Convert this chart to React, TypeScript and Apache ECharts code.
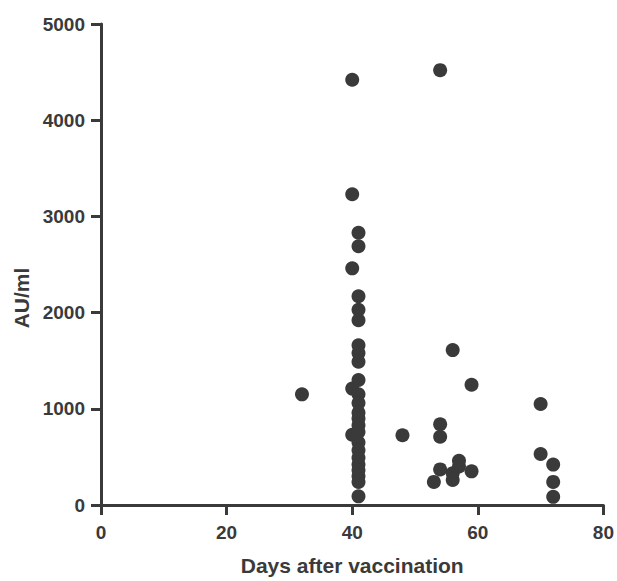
import React, { useEffect, useRef } from "react";
import * as echarts from "echarts";

const xTicks = [0, 20, 40, 60, 80];
const yTicks = [0, 1000, 2000, 3000, 4000, 5000];

const days40 = [4420, 3230, 2460, 1210, 730];
const days41 = [2830, 2690, 2170, 2030, 1920, 1660, 1580, 1490, 1300, 1150, 1060, 960, 900, 830, 760, 650, 570, 490, 420, 360, 300, 240, 90];
const otherDays = [32, 48, 53, 54, 54, 54, 54, 56, 56, 56, 57, 57, 59, 59, 70, 70, 72, 72, 72];
const otherValues = [1150, 725, 240, 4520, 840, 710, 370, 1610, 330, 260, 460, 400, 1250, 350, 1050, 530, 420, 240, 85];

const axisColor = "#3a3a3a";
const font = "Liberation Sans, Arial, sans-serif";

export default function App() {
  const ref = useRef<HTMLDivElement>(null);
  useEffect(() => {
    document.body.style.margin = "0";
    if (!ref.current) return;
    const chart = echarts.init(ref.current, null, { renderer: "svg" });
    const points: [number, number][] = [
      ...days40.map((v) => [40, v] as [number, number]),
      ...days41.map((v) => [41, v] as [number, number]),
      ...otherDays.map((d, i) => [d, otherValues[i]] as [number, number]),
    ];
    chart.setOption({
      animation: false,
      backgroundColor: "#ffffff",
      grid: { left: 101, right: 13, top: 24, bottom: 68, containLabel: false },
      xAxis: {
        type: "value",
        min: xTicks[0],
        max: xTicks[xTicks.length - 1],
        interval: 20,
        name: "Days after vaccination",
        nameLocation: "middle",
        nameGap: 50,
        nameTextStyle: { fontFamily: font, fontWeight: "bold", fontSize: 21, color: axisColor },
        axisLine: { show: true, onZero: false, lineStyle: { color: axisColor, width: 3 } },
        axisTick: { show: true, length: 10, lineStyle: { color: axisColor, width: 3 } },
        axisLabel: { margin: 18, fontFamily: font, fontWeight: "bold", fontSize: 19, color: axisColor, formatter: (v: number) => String(v) },
        splitLine: { show: false },
      },
      yAxis: {
        type: "value",
        min: yTicks[0],
        max: yTicks[yTicks.length - 1],
        interval: 1000,
        axisLine: { show: true, onZero: false, lineStyle: { color: axisColor, width: 3 } },
        axisTick: { show: true, length: 10, lineStyle: { color: axisColor, width: 3 } },
        axisLabel: { margin: 16, fontFamily: font, fontWeight: "bold", fontSize: 19, color: axisColor, formatter: (v: number) => String(v) },
        splitLine: { show: false },
      },
      graphic: [
        {
          type: "text",
          x: 21,
          y: 298,
          rotation: Math.PI / 2,
          style: {
            text: "AU/ml",
            font: `bold 21px ${font}`,
            fill: axisColor,
            align: "center",
            verticalAlign: "middle",
          },
        },
      ],
      series: [
        {
          type: "scatter",
          data: points,
          symbol: "circle",
          symbolSize: 14,
          itemStyle: { color: axisColor, opacity: 1 },
        },
      ],
    });
    return () => chart.dispose();
  }, []);
  return <div ref={ref} style={{ width: 617, height: 581 }} />;
}
